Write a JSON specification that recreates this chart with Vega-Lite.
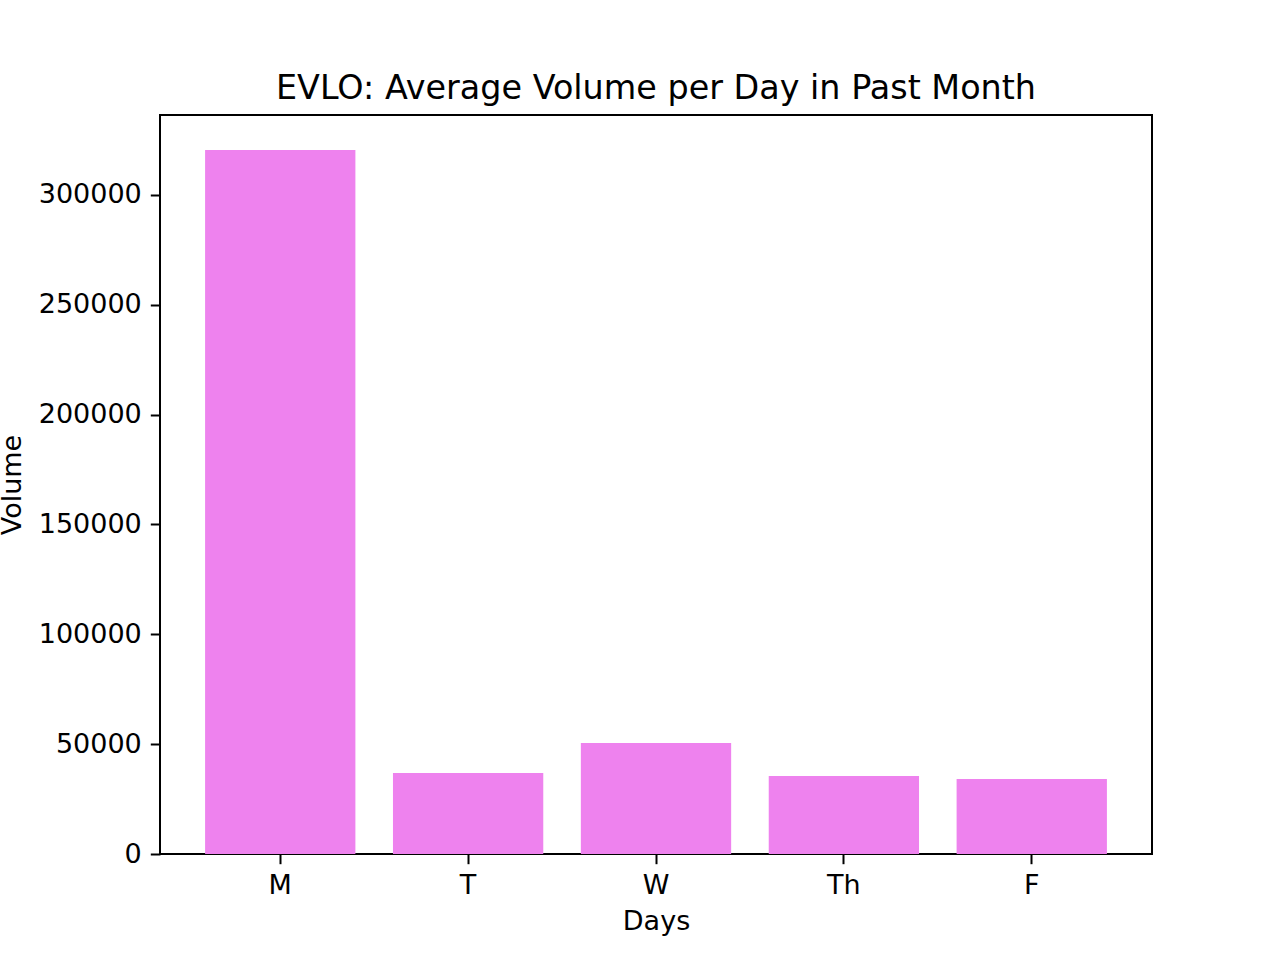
{
  "$schema": "https://vega.github.io/schema/vega-lite/v6.json",
  "width": 992,
  "height": 739,
  "autosize": "none",
  "padding": {"left": 160, "top": 115, "right": 128, "bottom": 106},
  "background": "white",
  "title": {"text": "EVLO: Average Volume per Day in Past Month", "fontSize": 33.4, "fontWeight": "normal", "font": "DejaVu Sans", "color": "black", "offset": 9},
  "config": {
    "view": {"stroke": "black", "strokeWidth": 2},
    "axis": {"labelFont": "DejaVu Sans", "titleFont": "DejaVu Sans", "labelFontSize": 27, "titleFontSize": 27, "titleFontWeight": "normal", "labelColor": "black", "titleColor": "black", "tickColor": "black", "domainColor": "black", "tickSize": 9.7, "tickWidth": 2, "labelPadding": 9, "grid": false}
  },
  "data": {"values": [
    {"day": "M", "volume": 320480},
    {"day": "T", "volume": 36870},
    {"day": "W", "volume": 50530},
    {"day": "Th", "volume": 35510},
    {"day": "F", "volume": 34140}
  ]},
  "mark": {"type": "bar", "color": "#EE82EE"},
  "encoding": {
    "x": {"field": "day", "type": "nominal", "sort": null, "title": "Days",
      "scale": {"paddingInner": 0.2, "paddingOuter": 0.24},
      "axis": {"labelAngle": 0, "titlePadding": 10, "domain": false}},
    "y": {"field": "volume", "type": "quantitative", "title": "Volume",
      "scale": {"domain": [0, 336400], "nice": false},
      "axis": {"values": [0, 50000, 100000, 150000, 200000, 250000, 300000], "format": "d", "titlePadding": 12, "domain": false}}
  }
}
